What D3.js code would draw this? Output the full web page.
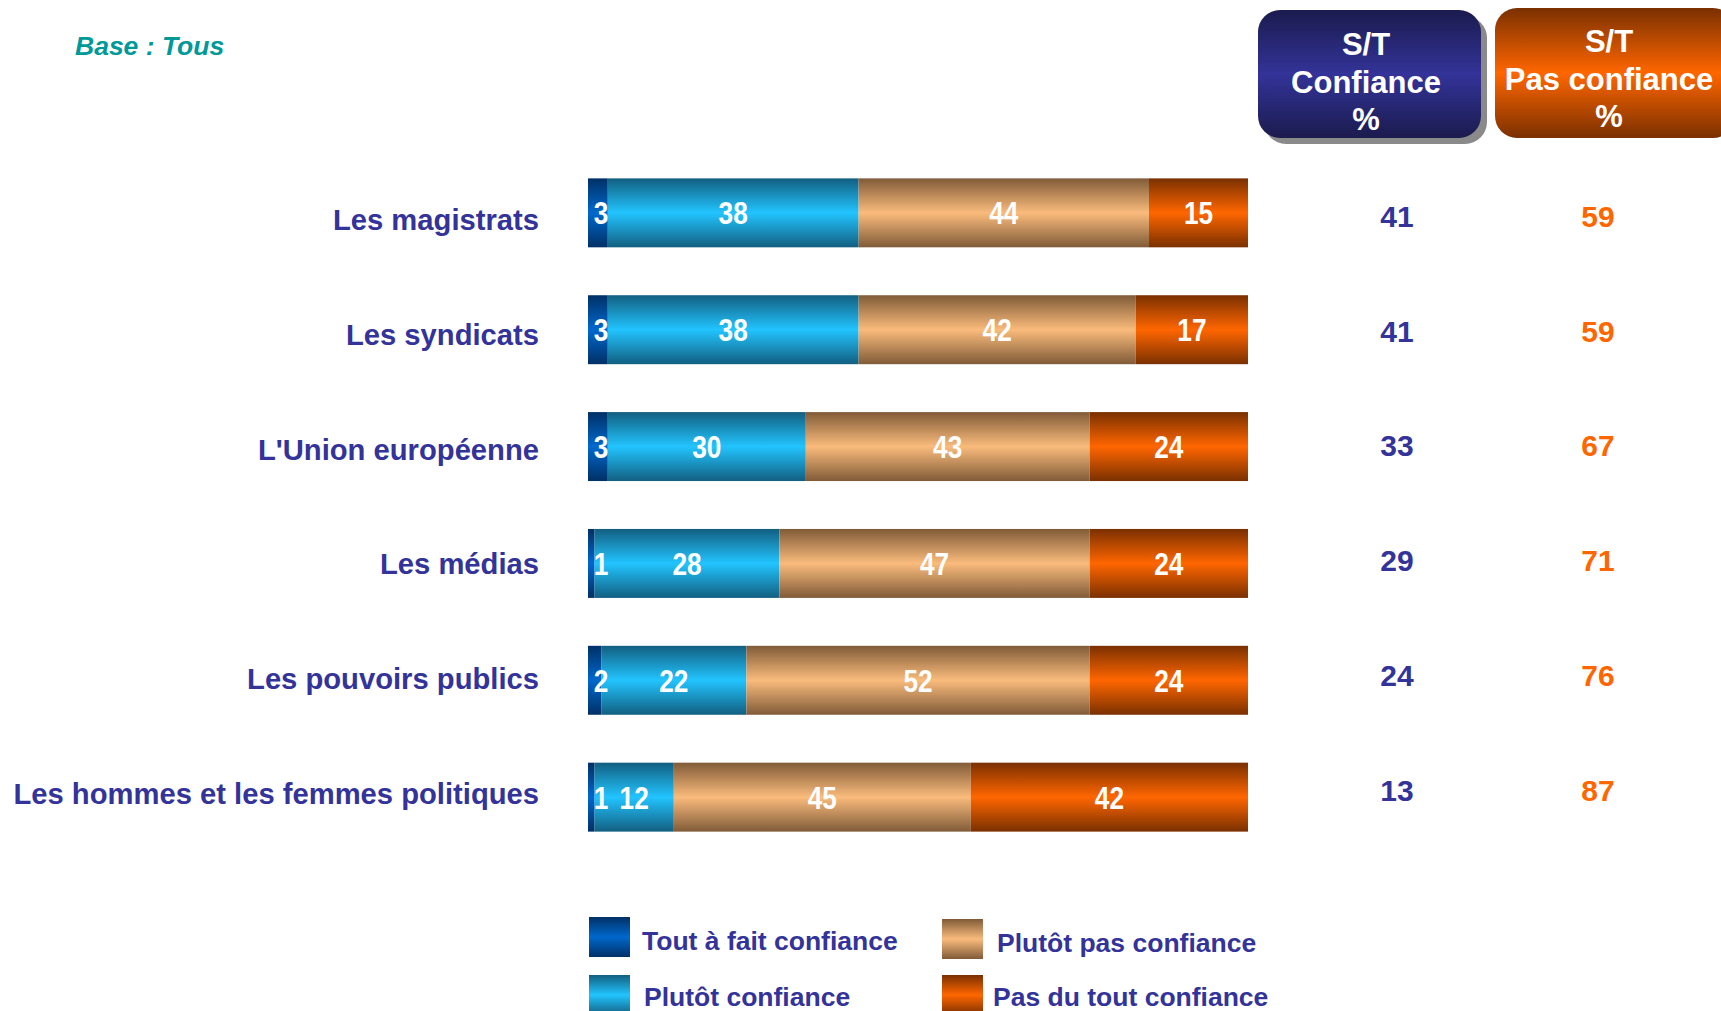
<!DOCTYPE html>
<html>
<head>
<meta charset="utf-8">
<script src="https://cdn.jsdelivr.net/npm/d3@7/dist/d3.min.js"></script>
<style>
  html, body { margin: 0; padding: 0; background: #fff; }
  svg { display: block; font-family: "Liberation Sans", Arial, sans-serif; }
</style>
</head>
<body>
<svg id="svg"></svg>
<script>
// categories, stacked values and totals
var categories = ["Les magistrats", "Les syndicats", "L'Union européenne",
                  "Les médias", "Les pouvoirs publics", "Les hommes et les femmes politiques"];
var toutAFait   = [3, 3, 3, 1, 2, 1];
var plutot      = [38, 38, 30, 28, 22, 12];
var plutotPas   = [44, 42, 43, 47, 52, 45];
var pasDuTout   = [15, 17, 24, 24, 24, 42];
var stConfiance = [41, 41, 33, 29, 24, 13];
var stPas       = [59, 59, 67, 71, 76, 87];
var seriesNames = ["Tout à fait confiance", "Plutôt confiance", "Plutôt pas confiance", "Pas du tout confiance"];

//////////////////////////////////////////////////////////////////////////////

var width = 1721, height = 1011;
var svg = d3.select("#svg").attr("width", width).attr("height", height);
var defs = svg.append("defs");

// vertical gradients: dark edge, light middle, dark edge
var gradColors = [
    ["#003066", "#0068cc"],
    ["#125f80", "#22c4ff"],
    ["#805b38", "#fabb7c"],
    ["#7a3000", "#ff6600"],
    ["#1b1b4e", "#333399"]
];
gradColors.forEach(function(c, i) {
    var g = defs.append("linearGradient").attr("id", "g" + i)
        .attr("x1", 0).attr("y1", 0).attr("x2", 0).attr("y2", 1);
    g.append("stop").attr("offset", "0%").attr("stop-color", c[0]);
    g.append("stop").attr("offset", "50%").attr("stop-color", c[1]);
    g.append("stop").attr("offset", "100%").attr("stop-color", c[0]);
});

var x = d3.scaleLinear().domain([0, 100]).range([588, 1248]);
var y = d3.scaleBand().domain(categories).range([155, 855]).paddingInner(0.41).paddingOuter(0.2);
// labels and sub-totals sit on a slightly tighter spacing than the bars
var yLab = d3.scalePoint().domain(categories).range([219.5, 793.5]);
var ySt  = d3.scalePoint().domain(categories).range([216, 790]);

// stack the four series
var table = categories.map(function(c, i) {
    return { name: c, s0: toutAFait[i], s1: plutot[i], s2: plutotPas[i], s3: pasDuTout[i] };
});
var stack = d3.stack().keys(["s0", "s1", "s2", "s3"])(table);

var layers = svg.selectAll("g.layer").data(stack).enter().append("g")
    .attr("class", "layer")
    .attr("fill", function(d, i) { return "url(#g" + i + ")"; });

layers.selectAll("rect").data(function(d) { return d; }).enter().append("rect")
    .attr("x", function(d) { return x(d[0]); })
    .attr("width", function(d) { return x(d[1]) - x(d[0]); })
    .attr("y", function(d) { return y(d.data.name); })
    .attr("height", y.bandwidth());

// values on top of all bars (narrow look via horizontal squeeze)
var segs = [];
stack.forEach(function(s) { s.forEach(function(d) { segs.push(d); }); });
svg.append("g").selectAll("text").data(segs).enter().append("text")
    .attr("transform", function(d) {
        var c = (x(d[0]) + x(d[1])) / 2;
        var tx = Math.max(c, x(d[0]) + 13);
        return "translate(" + tx + "," + (y(d.data.name) + y.bandwidth() / 2) + ") scale(0.82,1)";
    })
    .attr("dy", "0.36em")
    .attr("text-anchor", "middle")
    .attr("fill", "white")
    .style("font-weight", "bold")
    .style("font-size", "32px")
    .text(function(d) { return d[1] - d[0]; });

// category labels
svg.selectAll("text.cat").data(categories).enter().append("text")
    .attr("class", "cat")
    .attr("x", 539)
    .attr("y", function(d) { return yLab(d); })
    .attr("dy", "0.36em")
    .attr("text-anchor", "end")
    .attr("fill", "#333399")
    .style("font-weight", "bold")
    .style("font-size", "29.2px")
    .text(function(d) { return d; });

// sub-total columns
svg.selectAll("text.st1").data(stConfiance).enter().append("text")
    .attr("x", 1397)
    .attr("y", function(d, i) { return ySt(categories[i]); })
    .attr("dy", "0.36em").attr("text-anchor", "middle")
    .attr("fill", "#333399").style("font-weight", "bold").style("font-size", "30px")
    .text(function(d) { return d; });
svg.selectAll("text.st2").data(stPas).enter().append("text")
    .attr("x", 1598)
    .attr("y", function(d, i) { return ySt(categories[i]); })
    .attr("dy", "0.36em").attr("text-anchor", "middle")
    .attr("fill", "#ff6600").style("font-weight", "bold").style("font-size", "30px")
    .text(function(d) { return d; });

// header boxes
svg.append("rect").attr("x", 1264).attr("y", 16).attr("width", 223).attr("height", 128)
    .attr("rx", 22).attr("fill", "#8a8a8a");
svg.append("rect").attr("x", 1258).attr("y", 10).attr("width", 223).attr("height", 128)
    .attr("rx", 22).attr("fill", "url(#g4)");
svg.append("rect").attr("x", 1495).attr("y", 8).attr("width", 240).attr("height", 130)
    .attr("rx", 22).attr("fill", "url(#g3)");

function header(cx, top, lines) {
    svg.append("g").selectAll("text").data(lines).enter().append("text")
        .attr("x", cx)
        .attr("y", function(d, i) { return top + i * 37.5; })
        .attr("dy", "0.36em").attr("text-anchor", "middle")
        .attr("fill", "white").style("font-weight", "bold").style("font-size", "31px")
        .text(function(d) { return d; });
}
header(1366, 44, ["S/T", "Confiance", "%"]);
header(1609, 41, ["S/T", "Pas confiance", "%"]);

// base note
svg.append("text").attr("x", 75).attr("y", 45).attr("dy", "0.36em")
    .attr("fill", "#009999").style("font-weight", "bold").style("font-style", "italic")
    .style("font-size", "26.5px").text("Base : Tous");

// legend
var legendPos = [[589, 917], [589, 975], [942, 919], [942, 975]];
var legTextX = [53, 55, 55, 51];
var legTextY = [23, 21, 23, 21];
var leg = svg.selectAll("g.leg").data(seriesNames).enter().append("g")
    .attr("class", "leg")
    .attr("transform", function(d, i) { return "translate(" + legendPos[i][0] + "," + legendPos[i][1] + ")"; });
leg.append("rect").attr("width", 41).attr("height", 40)
    .attr("fill", function(d, i) { return "url(#g" + i + ")"; });
leg.append("text").attr("x", function(d, i) { return legTextX[i]; })
    .attr("y", function(d, i) { return legTextY[i]; })
    .attr("dy", "0.36em")
    .attr("fill", "#333399").style("font-weight", "bold").style("font-size", "26.5px")
    .text(function(d) { return d; });
</script>
</body>
</html>
